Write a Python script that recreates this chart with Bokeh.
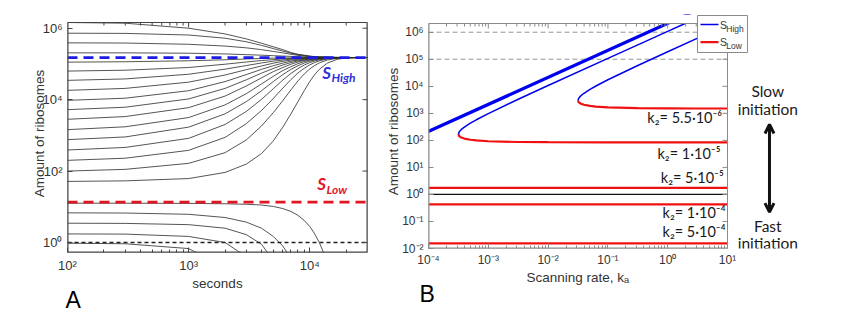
import numpy as np
from bokeh.plotting import figure
from bokeh.layouts import row
from bokeh.models import (FixedTicker, CustomJSTickFormatter, Label, Title,
                          Arrow, OpenHead, Range1d)
from bokeh.embed import file_html
from bokeh.resources import INLINE

# ---------------- Panel A data (log10 of amount of ribosomes) ----------------
a_time = [100, 300, 1000, 2000, 3000, 4000, 5000, 6000, 7000, 8000, 9000,
          10000, 11000, 12000, 14000, 17000, 20000, 30000]
a_above_high = [
    [6.16, 6.14, 6.00, 5.84, 5.70, 5.58, 5.48, 5.40, 5.32, 5.27, 5.245, 5.22, 5.205, 5.20, 5.19, 5.183, 5.18, 5.18],
    [5.86, 5.855, 5.81, 5.72, 5.62, 5.52, 5.43, 5.36, 5.30, 5.26, 5.235, 5.215, 5.20, 5.195, 5.187, 5.182, 5.18, 5.18],
    [5.59, 5.585, 5.55, 5.50, 5.45, 5.40, 5.35, 5.31, 5.27, 5.24, 5.22, 5.205, 5.195, 5.19, 5.185, 5.181, 5.18, 5.18],
    [5.31, 5.31, 5.30, 5.28, 5.26, 5.245, 5.23, 5.22, 5.21, 5.20, 5.195, 5.19, 5.187, 5.185, 5.182, 5.18, 5.18, 5.18],
]
a_rising = [
    [5.05, 5.061, 5.089, 5.116, 5.139, 5.152, 5.161, 5.166, 5.169, 5.172, 5.174, 5.176, 5.178, 5.179, 5.18, 5.18, 5.18, 5.18],
    [4.80, 4.824, 4.90, 4.992, 5.054, 5.096, 5.12, 5.141, 5.154, 5.162, 5.166, 5.17, 5.173, 5.175, 5.178, 5.18, 5.18, 5.18],
    [4.54, 4.58, 4.711, 4.854, 4.955, 5.027, 5.078, 5.109, 5.134, 5.149, 5.16, 5.165, 5.168, 5.172, 5.176, 5.179, 5.18, 5.18],
    [4.26, 4.315, 4.49, 4.69, 4.84, 4.943, 5.02, 5.073, 5.107, 5.131, 5.148, 5.158, 5.165, 5.168, 5.174, 5.178, 5.18, 5.18],
    [3.98, 4.04, 4.25, 4.506, 4.702, 4.848, 4.95, 5.024, 5.076, 5.108, 5.133, 5.149, 5.159, 5.165, 5.172, 5.178, 5.18, 5.18],
    [3.72, 3.788, 4.02, 4.315, 4.557, 4.742, 4.873, 4.971, 5.038, 5.085, 5.113, 5.137, 5.151, 5.16, 5.169, 5.177, 5.179, 5.18],
    [3.45, 3.526, 3.776, 4.10, 4.384, 4.61, 4.784, 4.90, 4.992, 5.054, 5.096, 5.12, 5.141, 5.154, 5.166, 5.176, 5.179, 5.18],
    [3.16, 3.24, 3.498, 3.853, 4.168, 4.44, 4.653, 4.815, 4.923, 5.008, 5.065, 5.103, 5.126, 5.144, 5.163, 5.174, 5.178, 5.18],
    [2.88, 2.956, 3.23, 3.602, 3.946, 4.25, 4.506, 4.702, 4.848, 4.95, 5.024, 5.076, 5.108, 5.133, 5.159, 5.172, 5.178, 5.18],
    [2.59, 2.662, 2.916, 3.304, 3.672, 4.008, 4.304, 4.549, 4.735, 4.869, 4.968, 5.036, 5.084, 5.112, 5.151, 5.169, 5.177, 5.18],
    [2.30, 2.36, 2.58, 2.943, 3.33, 3.697, 4.03, 4.323, 4.563, 4.747, 4.877, 4.973, 5.04, 5.087, 5.137, 5.166, 5.175, 5.18],
    [2.00, 2.048, 2.216, 2.515, 2.874, 3.263, 3.634, 3.974, 4.275, 4.526, 4.717, 4.858, 4.958, 5.029, 5.11, 5.16, 5.172, 5.18],
    [1.71, 1.726, 1.79, 1.962, 2.196, 2.49, 2.844, 3.23, 3.602, 3.946, 4.25, 4.506, 4.702, 4.848, 5.024, 5.133, 5.165, 5.18],
]
a_time_low = [100, 300, 1000, 2000, 3000, 4000, 5000, 6000, 7000, 8000, 9000,
              10000, 11000, 12000, 13000, 14000, 15000]
a_falling = [
    [1.10, 1.10, 1.095, 1.085, 1.07, 1.05, 1.01, 0.95, 0.87, 0.76, 0.62, 0.45, 0.24, 0.0, -0.28, -0.65, -1.1],
    [0.83, 0.825, 0.79, 0.70, 0.57, 0.40, 0.17, -0.10, -0.45, -0.9, -1.5, -2.2, -3, -3, -3, -3, -3],
    [0.54, 0.535, 0.50, 0.40, 0.22, -0.05, -0.5, -1.1, -1.8, -2.6, -3, -3, -3, -3, -3, -3, -3],
    [0.24, 0.235, 0.17, 0.0, -0.40, -1.0, -1.7, -2.5, -3, -3, -3, -3, -3, -3, -3, -3, -3],
    [-0.02, -0.035, -0.17, -0.7, -1.4, -2.2, -3, -3, -3, -3, -3, -3, -3, -3, -3, -3, -3],
]
a_t_min, a_t_max = 100, 3e4
a_s_min, a_s_max = 10 ** -0.28, 10 ** 6.16
a_s_high = 1.5e5
a_s_low = 13.5
a_unit = 1.0
a_xticks = [1e2, 1e3, 1e4]
a_yticks = [1e0, 1e2, 1e4, 1e6]

# ---------------- Panel B data ----------------
b_k_min, b_k_max = 1e-4, 10.0
b_s_min, b_s_max = 1e-2, 2.1e6
b_k_span = [1e-4, 10.0]
b_high_thick = [[2.30, 7.30], [2.33, 7.33], [2.36, 7.36]]        # log10 S at k_a = 1e-4 and 10
b_k_1e5 = [-3.5, -3.49, -3.47, -3.45, -3.4, -3.3, -3.2, -3.0, -2.5, -2.0, -1.0, 0.0, 0.3]
b_high_1e5 = [2.229, 2.30, 2.359, 2.403, 2.49, 2.635, 2.761, 2.991, 3.519, 4.027, 5.03, 6.03, 6.33]
b_k_1e5_low = [-3.5, -3.49, -3.47, -3.45, -3.4, -3.3, -3.2, -3.0, -2.5, -2.0, -1.0, 0.0, 1.0]
b_low_1e5 = [2.229, 2.168, 2.129, 2.105, 2.066, 2.023, 1.997, 1.967, 1.939, 1.933, 1.928, 1.928, 1.928]
b_k_55e6 = [-1.5, -1.49, -1.47, -1.45, -1.4, -1.3, -1.2, -1.0, -0.5, 0.0, 0.5, 1.0]
b_high_55e6 = [3.479, 3.55, 3.609, 3.653, 3.742, 3.885, 4.011, 4.241, 4.769, 5.277, 5.779, 6.28]
b_low_55e6 = [3.479, 3.418, 3.379, 3.355, 3.316, 3.273, 3.247, 3.217, 3.189, 3.183, 3.178, 3.178]
b_low_flat = [1.76, 0.43, 0.0155]     # k2 = 5e-5, 1e-4, 5e-4
b_unit = 1.0
b_dashed = [1e6, 1e5]
b_xticks = [1e-4, 1e-3, 1e-2, 1e-1, 1e0, 1e1]
b_yticks = [1e-2, 1e-1, 1e0, 1e1, 1e2, 1e3, 1e4, 1e5, 1e6]
b_k2_labels = ["k\u2082= 5.5\u00b710\u207b\u2076", "k\u2082= 1\u00b710\u207b\u2075",
               "k\u2082= 5\u00b710\u207b\u2075", "k\u2082= 1\u00b710\u207b\u2074",
               "k\u2082= 5\u00b710\u207b\u2074"]
b_legend_names = ["High", "Low"]

BLUE = "#0000f0"
RED = "#f01010"
SUP_JS = """
const m = {'-':'\u207b','0':'\u2070','1':'\u00b9','2':'\u00b2','3':'\u00b3','4':'\u2074','5':'\u2075','6':'\u2076','7':'\u2077','8':'\u2078','9':'\u2079'};
const e = Math.round(Math.log10(tick));
return '10' + String(e).split('').map(c => m[c]).join('');
"""
TXT = "Liberation Sans"


def minor_ticks(e0, e1, lo, hi):
    out = []
    for e in range(e0, e1 + 1):
        for m in range(2, 10):
            v = m * 10.0 ** e
            if lo < v < hi:
                out.append(v)
    return out


def style_axis(ax, color, size):
    ax.axis_line_color = None
    ax.major_tick_line_color = color
    ax.minor_tick_line_color = color
    ax.major_tick_in = 5
    ax.major_tick_out = 0
    ax.minor_tick_in = 3
    ax.minor_tick_out = 0
    ax.major_label_text_font = TXT
    ax.major_label_text_color = "#333333"
    ax.axis_label_text_font = TXT
    ax.axis_label_text_font_style = "normal"
    ax.axis_label_text_color = "#333333"
    ax.major_label_text_font_size = size
    ax.formatter = CustomJSTickFormatter(code=SUP_JS)


def draw_box(p, x0, x1, y0, y1, xmaj, xmin, ymaj, color, xdec_px, ydec_px, right_on_edge):
    """Outline of the plotting box plus inward ticks on its top and right sides."""
    p.line([x0, x1, x1, x0, x0], [y0, y0, y1, y1, y0], line_color=color, line_width=1.0)
    p.line([x0, x0], [y0, y1], line_color=color, line_width=2.0)
    p.line([x0, x1], [y0, y0], line_color=color, line_width=2.0)
    if right_on_edge:
        p.line([x1, x1], [y0, y1], line_color=color, line_width=2.0)
    f_maj = 10 ** (5.0 / ydec_px)
    f_min = 10 ** (3.0 / ydec_px)
    tmaj = [t for t in xmaj if x0 < t < x1]
    p.segment(x0=tmaj, y0=[y1] * len(tmaj), x1=tmaj, y1=[y1 / f_maj] * len(tmaj),
              line_color=color, line_width=1)
    p.segment(x0=xmin, y0=[y1] * len(xmin), x1=xmin, y1=[y1 / f_min] * len(xmin),
              line_color=color, line_width=1)
    fx = 10 ** (5.0 / xdec_px)
    rmaj = [t for t in ymaj if y0 < t < y1]
    p.segment(x0=[x1] * len(rmaj), y0=rmaj, x1=[x1 / fx] * len(rmaj), y1=rmaj,
              line_color=color, line_width=1)


# ======================= Panel A =======================
A_XDEC = 300 / np.log10(a_t_max / a_t_min)
A_YDEC = 230 / np.log10(a_s_max / a_s_min)
a_y_end = a_s_max * 10 ** (8 / A_YDEC)
pA = figure(x_axis_type="log", y_axis_type="log",
            x_range=Range1d(a_t_min, a_t_max), y_range=Range1d(a_s_min, a_y_end),
            frame_width=300, frame_height=238,
            min_border_left=67, min_border_right=5, min_border_top=14, min_border_bottom=68,
            output_backend="svg", toolbar_location=None)
pA.grid.visible = False
pA.outline_line_color = None
pA.background_fill_color = "white"
pA.border_fill_color = "white"

pA.xaxis.ticker = FixedTicker(ticks=a_xticks, minor_ticks=minor_ticks(2, 4, a_t_min, a_t_max))
pA.yaxis.ticker = FixedTicker(ticks=a_yticks, minor_ticks=[])
style_axis(pA.xaxis[0], "#444444", "13px")
style_axis(pA.yaxis[0], "#444444", "13px")
pA.xaxis.axis_label = "seconds"
pA.yaxis.axis_label = "Amount of ribosomes"
pA.xaxis.axis_label_text_font_size = "13.5px"
pA.yaxis.axis_label_text_font_size = "13.5px"
pA.xaxis.major_label_standoff = 5
pA.yaxis.major_label_standoff = 5
pA.xaxis.axis_label_standoff = 0
pA.yaxis.axis_label_standoff = -8
pA.add_layout(Title(text="A", align="left", offset=-2, standoff=-17, text_font=TXT, text_font_size="23px",
                    text_font_style="normal", text_color="black"), "below")

for curve in a_above_high + a_rising:
    pA.line(a_time, [10 ** v for v in curve], line_color="#2a2a2a", line_width=0.8)
for curve in a_falling:
    pA.line(a_time_low, [10 ** v for v in curve], line_color="#2a2a2a", line_width=0.8)

pA.line([a_t_min, a_t_max], [a_unit, a_unit], line_color="#222222", line_width=1.6, line_dash="4 3")
pA.line([a_t_min, a_t_max], [a_s_low, a_s_low], line_color="#e3151f", line_width=2.6, line_dash="10 6")
pA.line([a_t_min, a_t_max], [a_s_high, a_s_high], line_color="#1c1ce6", line_width=2.6, line_dash="10 6")

draw_box(pA, a_t_min, a_t_max, a_s_min, a_s_max, a_xticks, minor_ticks(2, 4, a_t_min, a_t_max),
         a_yticks, "#444444", A_XDEC, A_YDEC, True)

lab_kw = dict(text_font="Lato", text_font_style="bold italic", text_baseline="middle", text_align="left")
pA.add_layout(Label(x=10 ** 4.103, y=10 ** 4.768, text="S", text_font_size="17px", text_color="#3030dd", **lab_kw))
pA.add_layout(Label(x=10 ** 4.18, y=10 ** 4.628, text="High", text_font_size="12px", text_color="#3030dd", **lab_kw))
pA.add_layout(Label(x=10 ** 4.062, y=10 ** 1.643, text="S", text_font_size="17px", text_color="#e3151f", **lab_kw))
pA.add_layout(Label(x=10 ** 4.139, y=10 ** 1.497, text="Low", text_font_size="12px", text_color="#e3151f", **lab_kw))

# ======================= Panel B =======================
# The frame is widened to the right and upward so the legend, side notes and
# arrow are drawn inside it; the plotting box (1e-4..10, 1e-2..2.1e6) is outlined explicitly.
B_FW, B_FH = 417, 234
B_XDEC = 299 / np.log10(b_k_max / b_k_min)
B_YDEC = 225 / np.log10(b_s_max / b_s_min)
b_x_end = b_k_min * 10 ** (B_FW / B_XDEC)
b_y_end = b_s_max * 10 ** (9 / B_YDEC)
pB = figure(x_axis_type="log", y_axis_type="log",
            x_range=Range1d(b_k_min, b_x_end), y_range=Range1d(b_s_min, b_y_end),
            frame_width=B_FW, frame_height=B_FH,
            min_border_left=56, min_border_right=0, min_border_top=14, min_border_bottom=72,
            output_backend="svg", toolbar_location=None)
pB.grid.visible = False
pB.outline_line_color = None
pB.background_fill_color = "white"
pB.border_fill_color = "white"
pB.xaxis.ticker = FixedTicker(ticks=b_xticks, minor_ticks=minor_ticks(-4, 0, b_k_min, b_k_max))
pB.yaxis.ticker = FixedTicker(ticks=b_yticks, minor_ticks=[])
style_axis(pB.xaxis[0], "#8a8a8a", "12px")
style_axis(pB.yaxis[0], "#8a8a8a", "12px")
pB.yaxis.axis_label = "Amount of ribosomes"
pB.yaxis.axis_label_text_font_size = "13.5px"
pB.xaxis.major_label_standoff = 4
pB.yaxis.major_label_standoff = 5
pB.yaxis.axis_label_standoff = -2
pB.add_layout(Title(text="Scanning rate, k\u2090", align="left", offset=98, standoff=-3, text_font=TXT,
                    text_font_size="13.5px", text_font_style="normal", text_color="#333333"), "below")
pB.add_layout(Title(text="B", align="left", offset=-9, standoff=-9, text_font=TXT, text_font_size="23px",
                    text_font_style="normal", text_color="black"), "below")

for yv in b_dashed:
    pB.line(b_k_span, [yv, yv], line_color="#8a8a8a", line_width=0.9, line_dash="5 3")

pB.line(b_k_span, [b_unit, b_unit], line_color="#111111", line_width=1.3)
for yv in b_low_flat:
    pB.line(b_k_span, [yv, yv], line_color=RED, line_width=2.2)
pB.line([10 ** v for v in b_k_1e5_low], [10 ** v for v in b_low_1e5], line_color=RED, line_width=2.2)
pB.line([10 ** v for v in b_k_55e6], [10 ** v for v in b_low_55e6], line_color=RED, line_width=2.2)
for th in b_high_thick:
    pB.line(b_k_span, [10 ** th[0], 10 ** th[1]], line_color=BLUE, line_width=1.8)
pB.line([10 ** v for v in b_k_1e5], [10 ** v for v in b_high_1e5], line_color=BLUE, line_width=1.5)
pB.line([10 ** v for v in b_k_55e6], [10 ** v for v in b_high_55e6], line_color=BLUE, line_width=1.5)

# white mask above the plotting box (hides line parts beyond the upper limit)
pB.quad(left=[b_k_min], right=[b_x_end], bottom=[b_s_max], top=[b_y_end],
        fill_color="white", line_color=None)
draw_box(pB, b_k_min, b_k_max, b_s_min, b_s_max, b_xticks, minor_ticks(-4, 0, b_k_min, b_k_max),
         b_yticks, "#8a8a8a", B_XDEC, B_YDEC, False)

# legend box straddling the right edge of the plotting box (log10 positions)
pB.quad(left=[10 ** 0.498], right=[10 ** 1.334], bottom=[10 ** 5.249], top=[10 ** 6.618],
        fill_color="white", line_color="#8a8a8a", line_width=1)
pB.line([10 ** 0.548, 10 ** 0.849], [10 ** 6.285, 10 ** 6.285], line_color=BLUE, line_width=1.5)
pB.line([10 ** 0.548, 10 ** 0.849], [10 ** 5.63, 10 ** 5.63], line_color=RED, line_width=2.2)
leg_kw = dict(text_font=TXT, text_color="#333333", text_align="left", text_baseline="middle")
for name, ly in zip(b_legend_names, [6.285, 5.63]):
    pB.add_layout(Label(x=10 ** 0.875, y=10 ** ly, text="S", text_font_size="10.5px", **leg_kw))
    pB.add_layout(Label(x=10 ** 0.98, y=10 ** (ly - 0.15), text=name, text_font_size="8.5px", **leg_kw))

k2_pos = [(0.911, 2.857), (0.883, 1.525), (0.938, 0.638), (0.967, -0.657), (0.967, -1.370)]
for txt, (lx, ly) in zip(b_k2_labels, k2_pos):
    pB.add_layout(Label(x=10 ** lx, y=10 ** ly, text=txt, text_font="Lato", text_font_size="14.5px",
                        text_color="#1a1a1a", text_align="right", text_baseline="middle"))

side_kw = dict(text_font="Lato", text_font_size="15.5px", text_color="#1a1a1a",
               text_align="center", text_baseline="middle")
for txt, ly in [("Slow", 3.844), ("initiation", 3.142), ("Fast", -1.174), ("initiation", -1.80)]:
    pB.add_layout(Label(x=10 ** 1.674, y=10 ** ly, text=txt, **side_kw))
pB.add_layout(Arrow(start=OpenHead(size=9, line_width=3, line_color="#111111"),
                    end=OpenHead(size=9, line_width=3, line_color="#111111"),
                    x_start=10 ** 1.702, y_start=10 ** 2.587, x_end=10 ** 1.702, y_end=10 ** -0.657,
                    line_width=3, line_color="#111111"))

layout = row(pA, pB)
open("out.html", "w").write(file_html(layout, INLINE))
